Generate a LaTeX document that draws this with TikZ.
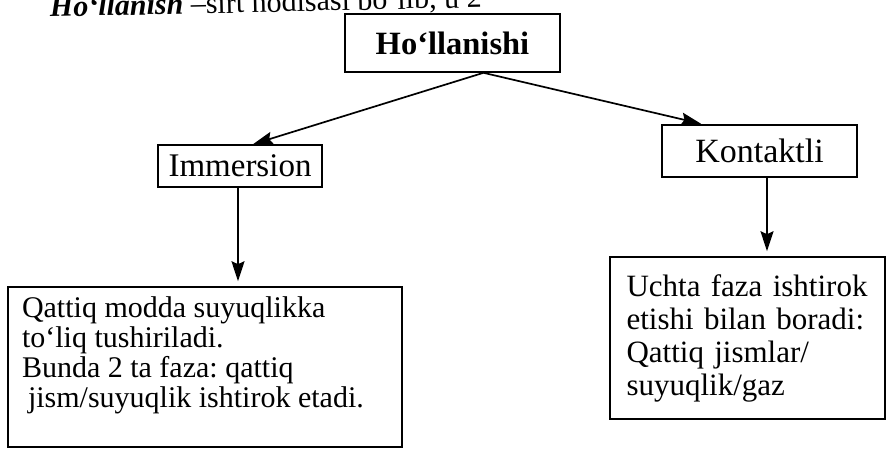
\documentclass[tikz,border=0pt]{standalone}
\usepackage{fontspec}
\setmainfont{Liberation Serif}
\usetikzlibrary{arrows.meta}
\begin{document}
\frenchspacing
\begin{tikzpicture}[x=1pt,y=-1pt,
  box/.style={draw, line width=1.6pt, inner sep=0pt, font=\fontsize{30}{30}\selectfont},
  conn/.style={-{Stealth[length=20pt,width=13pt,inset=3pt]}, line width=1.7pt}]
\useasboundingbox (0,0) rectangle (888,453);
\clip (0,0) rectangle (888,453);
\node[anchor=base west, inner sep=0pt, rotate=1.3, font=\fontsize{30}{30}\selectfont] (hdr) at (50,17)
  {\textbf{\textit{Ho‘llanish}} –sirt hodisasi bo‘lib, u 2};
\node[box, minimum width=215pt, minimum height=58pt, font=\fontsize{32.5}{32.5}\selectfont\bfseries] (top) at (452.5,43) {Ho‘llanishi};
\node[box, minimum width=164pt, minimum height=42pt, font=\fontsize{33}{33}\selectfont] (imm) at (240,166) {Immersion};
\node[box, minimum width=195pt, minimum height=52pt, font=\fontsize{34}{34}\selectfont] (kon) at (759.5,151) {Kontaktli};
\node[box, minimum width=394pt, minimum height=160pt, inner xsep=14pt,
  font=\fontsize{30}{30}\selectfont] (lbox) at (205,367)
  {\parbox[c][140pt][t]{366pt}{\raggedright Qattiq modda suyuqlikka\\to‘liq tushiriladi.\\Bunda 2 ta faza: qattiq\\\hspace*{6pt}jism/suyuqlik ishtirok etadi.}};
\node[box, minimum width=275pt, minimum height=162pt, text width=242pt, align=left, inner xsep=16.5pt,
  font=\fontsize{31}{33}\selectfont] (rbox) at (747.5,338)
  {Uchta faza ishtirok\\etishi bilan boradi:\\Qattiq jismlar/\\suyuqlik/gaz};
\draw[conn] ([xshift=31pt]top.south) -- ([xshift=13pt]imm.north);
\draw[conn, shorten >=2pt] ([xshift=31pt]top.south) -- ([xshift=-56.5pt]kon.north);
\draw[conn, shorten >=5pt] ([xshift=-2pt]imm.south) -- ([xshift=33pt]lbox.north);
\draw[conn, shorten >=5pt] ([xshift=7.5pt]kon.south) -- ([xshift=19.5pt]rbox.north);
\end{tikzpicture}
\end{document}
